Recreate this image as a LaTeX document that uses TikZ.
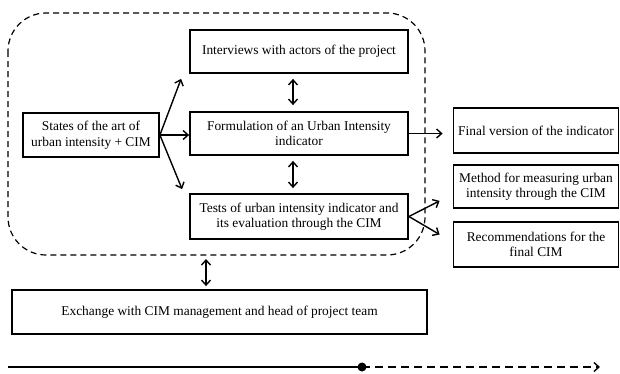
\documentclass[tikz,border=0pt]{standalone}
\usepackage{fontspec}
\setmainfont{Liberation Serif}
\usetikzlibrary{arrows.meta}

\tikzset{
    stepbox/.style={draw, line width=1.8pt, align=center, inner sep=2pt,
        font=\fontsize{13.4}{15.5}\selectfont},
    flow/.style={-{Straight Barb[length=5pt,width=9pt]}, line width=1.4pt},
    twoway/.style={{Straight Barb[length=5pt,width=9pt]}-{Straight Barb[length=5pt,width=9pt]}, line width=1.4pt}
}

\begin{document}
\begin{tikzpicture}[x=1pt,y=-1pt]
    %initialisation
    \useasboundingbox (0,0) rectangle (620,373);
    %phase frame
    \draw[dash pattern=on 6pt off 4pt, line width=1.2pt, rounded corners=38pt] (8,13) rectangle (425,255);
    %definitions
    \node[stepbox, minimum width=136pt, minimum height=44pt] (states) at (91,135)
        {States of the art of\\urban intensity + CIM};
    \node[stepbox, minimum width=218pt, minimum height=43pt] (interv) at (299,51.5)
        {Interviews with actors of the project};
    \node[stepbox, minimum width=218pt, minimum height=43pt] (formul) at (299,133.5)
        {Formulation of an Urban Intensity\\indicator};
    \node[stepbox, minimum width=218pt, minimum height=45pt] (tests) at (299,216.5)
        {Tests of urban intensity indicator and\\its evaluation through the CIM};
    \node[stepbox, minimum width=165pt, minimum height=45pt] (final) at (536,130.5)
        {Final version of the indicator};
    \node[stepbox, minimum width=165pt, minimum height=43pt] (method) at (536,186.5)
        {Method for measuring urban\\intensity through the CIM};
    \node[stepbox, minimum width=165pt, minimum height=45pt] (recom) at (536,244.5)
        {Recommendations for the\\final CIM};
    \node[stepbox, minimum width=415pt, minimum height=44pt] (exch) at (219.5,312)
        {Exchange with CIM management and head of project team};
    \coordinate (frame) at (206,259);
    \coordinate (start) at (8,367);
    \coordinate (now) at (362,367);
    \coordinate (later) at (600,367);
    %drawing
    \draw[flow] (states.east) -- ([xshift=-8pt,yshift=-5pt]interv.south west);
    \draw[flow] (states.east) -- (formul.west |- states.east);
    \draw[flow] (states.east) -- ([xshift=-7pt,yshift=4pt]tests.north west);
    \draw[twoway] ([xshift=-6pt,yshift=-5pt]interv.south) -- ([xshift=-6pt,yshift=6pt]formul.north);
    \draw[twoway] ([xshift=-6pt,yshift=-5pt]formul.south) -- ([xshift=-6pt,yshift=5pt]tests.north);
    \draw[flow] (formul.east) -- ([xshift=-10pt]final.west |- formul.east);
    \draw[flow] (tests.east) -- ([xshift=-13pt,yshift=8pt]method.south west);
    \draw[flow] (tests.east) -- ([xshift=-13pt,yshift=10pt]recom.west);
    \draw[twoway] (frame) -- ([yshift=3pt]exch.north -| frame);
    %timeline
    \draw[line width=2pt] (start) -- (now);
    \draw[flow, dash pattern=on 8pt off 5pt] (now) -- (later);
    \fill (now) circle (4.5pt);
\end{tikzpicture}
\end{document}
